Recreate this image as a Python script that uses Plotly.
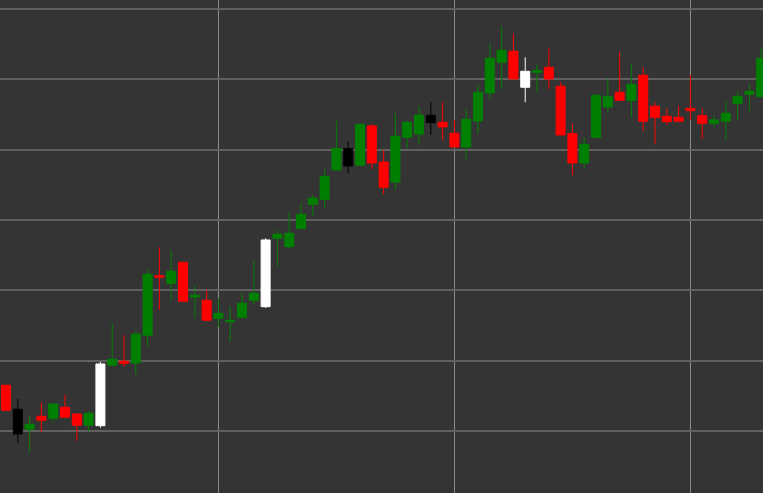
import plotly.graph_objects as go

# OHLC values (index-based x)
open_ = [106.50, 103.09, 100.24, 102.09, 101.81, 103.37, 102.42, 100.81, 100.75, 109.34,
         109.91, 109.67, 113.61, 122.08, 121.00, 123.99, 119.05, 118.58, 116.02, 115.54,
         116.17, 118.58, 117.67, 127.40, 126.21, 128.82, 132.23, 132.94, 137.11, 140.14,
         137.78, 143.37, 138.25, 135.40, 141.76, 142.23, 144.89, 143.89, 142.33, 140.38,
         144.08, 148.06, 152.42, 153.99, 148.87, 151.00, 151.71, 149.01, 142.27, 138.11,
         141.76, 146.07, 148.16, 147.02, 150.58, 146.17, 144.75, 144.60, 145.88, 144.83,
         143.75, 144.04, 146.59, 147.87, 147.53]
high = [106.55, 104.55, 102.13, 104.08, 103.98, 105.12, 102.42, 102.80, 109.81, 115.31,
        113.61, 114.22, 122.99, 126.12, 125.59, 123.99, 120.66, 120.05, 118.87, 117.77,
        119.62, 124.17, 127.40, 128.54, 131.10, 132.52, 133.56, 137.21, 144.12, 141.19,
        143.61, 143.65, 139.91, 145.17, 144.12, 146.21, 146.74, 146.74, 144.22, 145.74,
        149.20, 155.13, 157.59, 156.55, 153.14, 152.14, 154.41, 149.58, 143.75, 141.76,
        147.73, 150.15, 153.93, 152.28, 151.71, 146.74, 145.88, 146.21, 150.62, 145.88,
        144.89, 146.88, 148.30, 149.30, 154.56]
low = [102.90, 98.25, 96.97, 99.90, 101.32, 101.95, 98.58, 99.90, 100.47, 109.34,
       109.14, 108.06, 111.99, 117.20, 118.58, 118.44, 116.02, 115.74, 114.79, 112.65,
       115.97, 118.02, 117.49, 123.42, 125.92, 128.54, 130.61, 131.81, 137.11, 136.64,
       137.78, 137.21, 133.70, 134.27, 140.20, 140.77, 142.09, 141.38, 140.38, 138.63,
       142.23, 147.16, 148.59, 150.05, 146.74, 148.16, 148.59, 142.09, 136.36, 137.21,
       141.76, 145.17, 147.02, 144.60, 142.61, 140.77, 143.55, 144.04, 144.18, 141.56,
       143.18, 141.33, 144.18, 145.46, 147.53]
close = [102.94, 99.57, 100.95, 101.52, 103.84, 101.95, 100.81, 102.52, 109.53, 110.20,
         109.63, 113.75, 122.28, 121.85, 122.71, 118.44, 119.30, 115.74, 116.74, 115.74,
         118.16, 119.58, 127.16, 127.97, 128.11, 130.81, 133.09, 136.16, 140.14, 137.68,
         143.61, 138.11, 134.65, 141.90, 143.89, 144.89, 143.84, 143.23, 140.38, 144.32,
         148.16, 152.99, 154.13, 150.05, 151.14, 151.23, 150.05, 142.09, 138.11, 140.77,
         147.73, 147.53, 147.02, 149.30, 144.04, 144.60, 143.98, 144.04, 145.54, 143.75,
         144.22, 145.17, 147.59, 148.30, 152.99]
special = [1, 8, 22, 29, 36, 44]  # highlighted candles (white up / black down)

idx = list(range(len(open_)))
norm = [i for i in idx if i not in special]

def pick(arr, ids):
    return [arr[i] for i in ids]

fig = go.Figure()
fig.add_trace(go.Candlestick(
    x=norm, open=pick(open_, norm), high=pick(high, norm),
    low=pick(low, norm), close=pick(close, norm),
    increasing=dict(line=dict(color="#008000", width=1), fillcolor="#008000"),
    decreasing=dict(line=dict(color="#ff0000", width=1), fillcolor="#ff0000"),
    hoverinfo="skip", showlegend=False))
fig.add_trace(go.Candlestick(
    x=special, open=pick(open_, special), high=pick(high, special),
    low=pick(low, special), close=pick(close, special),
    increasing=dict(line=dict(color="#ffffff", width=1), fillcolor="#ffffff"),
    decreasing=dict(line=dict(color="#000000", width=1), fillcolor="#000000"),
    hoverinfo="skip", showlegend=False))

fig.update_layout(
    width=763, height=493, margin=dict(l=0, r=0, t=0, b=0),
    paper_bgcolor="#343434", plot_bgcolor="#343434",
    boxgap=0.237, boxgroupgap=0,
    showlegend=False,
    xaxis=dict(range=[-0.51, 64.15], tick0=18, dtick=20, showgrid=True,
               gridcolor="#8a8a8a", gridwidth=1, showticklabels=False,
               zeroline=False, showline=False, ticks="",
               rangeslider=dict(visible=False)),
    yaxis=dict(range=[91.18, 161.28], tick0=100, dtick=10, showgrid=True,
               gridcolor="#606060", gridwidth=2, showticklabels=False,
               zeroline=False, showline=False, ticks=""),
)
fig.write_html("out.html", config={"displayModeBar": False},
               post_script="document.body.style.margin='0';document.body.style.background='#343434';")
